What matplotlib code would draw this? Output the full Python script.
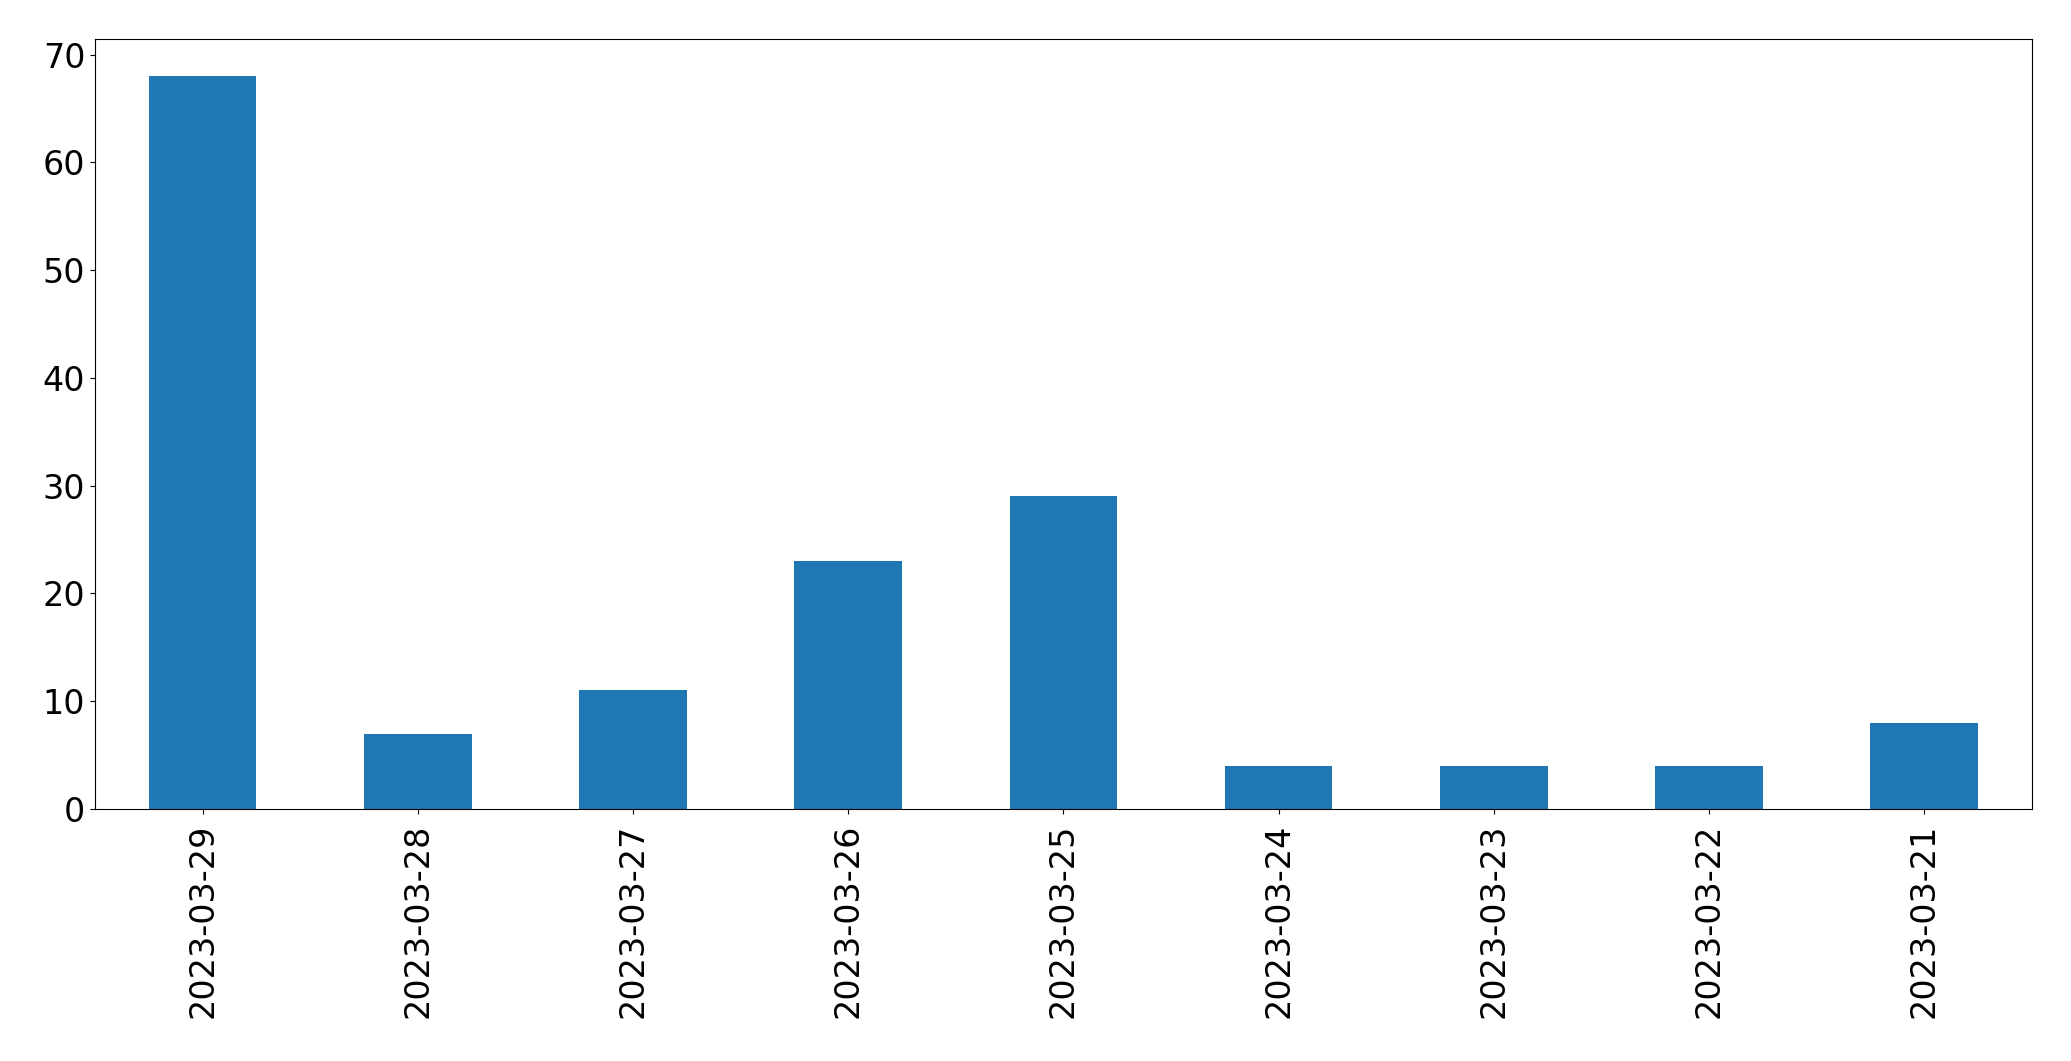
import pandas as pd
import matplotlib
matplotlib.use("Agg")
import matplotlib.pyplot as plt

# daily counts, newest first
dates = ["2023-03-29", "2023-03-28", "2023-03-27", "2023-03-26", "2023-03-25",
         "2023-03-24", "2023-03-23", "2023-03-22", "2023-03-21"]
counts = [68, 7, 11, 23, 29, 4, 4, 4, 8]

series = pd.Series(counts, index=dates)

fig = plt.figure(figsize=(20.71, 10.61), dpi=100)
ax = fig.add_axes([0.0459, 0.2375, 0.9351, 0.7253])
series.plot(kind="bar", ax=ax, color="#1f77b4", fontsize=24)
ax.tick_params(axis="x", pad=7)

fig.savefig("out.png", dpi=100)
